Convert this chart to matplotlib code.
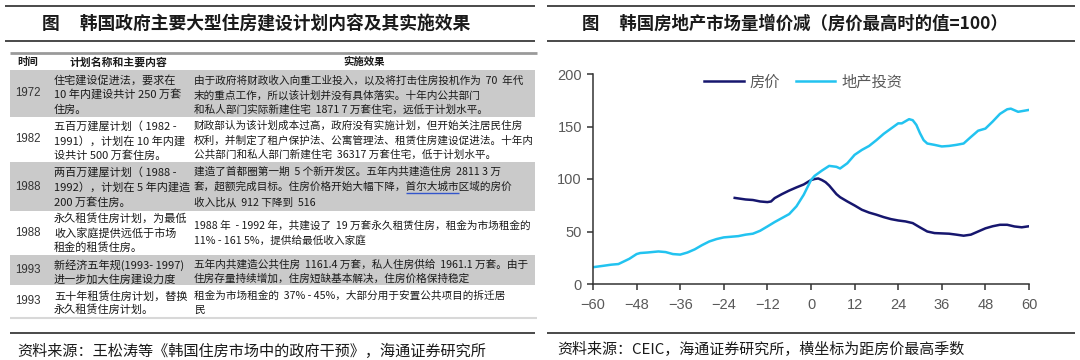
import matplotlib
matplotlib.use("Agg")
import matplotlib.pyplot as plt
from matplotlib.patches import Rectangle

CJK = ['Noto Sans CJK SC', 'DejaVu Sans']
NUM = ['Liberation Sans', 'Noto Sans CJK SC', 'DejaVu Sans']
plt.rcParams['font.family'] = CJK

# ---------------- data ----------------
left_title = "图     韩国政府主要大型住房建设计划内容及其实施效果"
right_title = "图     韩国房地产市场量增价减（房价最高时的值=100）"
left_source = "资料来源：王松涛等《韩国住房市场中的政府干预》，海通证券研究所"
right_source = "资料来源：CEIC，海通证券研究所，横坐标为距房价最高季数"

table_header = ["时间", "计划名称和主要内容", "实施效果"]
table_years = ["1972", "1982", "1988", "1988", "1993", "1993"]
table_plans = [
    ["住宅建设促进法，要求在", "10 年内建设共计 250 万套", "住房。"],
    ["五百万建屋计划（ 1982 -", "1991），计划在 10 年内建", "设共计 500 万套住房。"],
    ["两百万建屋计划（ 1988 -", "1992），计划在 5 年内建造", "200 万套住房。"],
    ["永久租赁住房计划，为最低", "收入家庭提供远低于市场", "租金的租赁住房。"],
    ["新经济五年规(1993- 1997)", "进一步加大住房建设力度"],
    ["五十年租赁住房计划，替换", "永久租赁住房计划。"],
]
table_effects = [
    ["由于政府将财政收入向重工业投入，以及将打击住房投机作为  70  年代",
     "末的重点工作，所以该计划并没有具体落实。十年内公共部门",
     "和私人部门实际新建住宅  1871 7 万套住宅，远低于计划水平。"],
    ["财政部认为该计划成本过高，政府没有实施计划，但开始关注居民住房",
     "权利，并制定了租户保护法、公寓管理法、租赁住房建设促进法。十年内",
     "公共部门和私人部门新建住宅  36317 万套住宅，低于计划水平。"],
    ["建造了首都圈第一期  5 个新开发区。五年内共建造住房  2811 3 万",
     "套，超额完成目标。住房价格开始大幅下降，首尔大城市区域的房价",
     "收入比从  912 下降到  516"],
    ["1988 年  - 1992 年，共建设了  19 万套永久租赁住房，租金为市场租金的",
     "11% - 161 5%，提供给最低收入家庭"],
    ["五年内共建造公共住房  1161.4 万套，私人住房供给  1961.1 万套。由于",
     "住房存量持续增加，住房短缺基本解决，住房价格保持稳定"],
    ["租金为市场租金的  37% - 45%，大部分用于安置公共项目的拆迁居",
     "民"],
]
table_shaded = [True, False, True, False, True, False]

series_names = ["房价", "地产投资"]
quarters_invest = [-60, -57, -55, -53, -50, -48, -47, -45, -42, -40, -38, -36, -34, -32,
                   -30, -28, -26, -24, -22, -20, -18, -16, -14, -12, -10, -8, -6, -4, -2,
                   0, 1, 3, 5, 7, 8, 10, 12, 14, 16, 18, 20, 22, 24, 25, 27, 28, 29, 30,
                   31, 32, 34, 36, 38, 40, 42, 44, 46, 48, 50, 52, 54, 55, 57, 60]
invest = [16, 17.4, 18.4, 19, 24, 28.5, 29.5, 30, 31, 30.4, 28.5, 28, 30, 33,
          37, 40.5, 42.8, 44.4, 45, 45.6, 47, 47.9, 50.7, 54.8, 59, 62.8, 66.6, 74, 85,
          99, 103, 108, 112.5, 111.6, 110, 115, 123, 127.7, 131.5, 137, 143, 148, 153, 153,
          157, 156, 151.5, 143.6, 137, 133.8, 132.5, 131, 131.5, 132.5, 133.8, 140, 146,
          148, 154.7, 162, 166.4, 167, 164, 165.8]
quarters_price = [-21, -18, -16, -14, -12, -11, -10, -8, -6, -4, -2, 0, 1, 2, 3, 4, 5, 6,
                  7, 8, 10, 12, 14, 16, 18, 20, 22, 24, 26, 28, 30, 32, 34, 36, 38, 40,
                  42, 44, 46, 48, 50, 52, 54, 56, 58, 60]
price = [82, 80.5, 80, 78.6, 78, 78.6, 81.8, 85.6, 89, 92, 94.8, 99, 100, 100.5, 99, 97,
         93.8, 89.7, 85.6, 82.7, 78.6, 74.8, 70.7, 68, 66, 63.7, 61.8, 60.5, 59.6, 58,
         53.9, 50, 48.5, 48.2, 47.9, 47, 46, 47, 50, 53, 55, 56.4, 56.4, 54.8, 54, 55]
x_ticks = [-60, -48, -36, -24, -12, 0, 12, 24, 36, 48, 60]
y_ticks = [0, 50, 100, 150, 200]

# ---------------- styles ----------------
NAVY = "#16166e"
CYAN = "#22c3f0"
SHADE = "#cacaca"
TXT = "#1a1a1a"
GRAYTXT = "#595959"

fig = plt.figure(figsize=(10.8, 3.6), dpi=100)
bg = fig.add_axes([0, 0, 1, 1])
bg.set_xlim(0, 1080)
bg.set_ylim(360, 0)
bg.axis('off')

def hline(x0, x1, y, color="#3a3a3a", lw=1.3):
    bg.plot([x0, x1], [y, y], color=color, lw=lw, solid_capstyle='butt')

# ---- left panel: title + table ----
hline(5, 535, 6)
hline(5, 535, 41)
bg.text(42, 24, left_title, fontsize=12.8, fontweight='bold', va='center', ha='left', color=TXT)

hline(10, 537, 53, color="#9a9a9a", lw=2)
bg.text(17, 62, table_header[0], fontsize=7.5, fontweight='bold', va='center', color=TXT)
bg.text(70, 62, table_header[1], fontsize=7.8, fontweight='bold', va='center', color=TXT)
bg.text(343, 62, table_header[2], fontsize=7.5, fontweight='bold', va='center', color=TXT)

row_bounds = [(70, 117), (117, 162), (162, 211), (211, 255), (255, 285), (285, 317)]
plan_lines_y = [[80, 95, 110], [126, 141, 155], [172, 187, 202], [218, 233, 248],
                [265, 279], [296, 310]]
eff_lines_y = [[80, 95, 110], [126, 141, 155], [172, 187, 202], [226, 241],
               [265, 279], [296, 310]]
for i in range(len(table_years)):
    top, bot = row_bounds[i]
    if table_shaded[i]:
        bg.add_patch(Rectangle((10, top), 525, bot - top, color=SHADE, lw=0))
    bg.text(28, (top + bot) / 2, table_years[i], fontsize=8.3, family=NUM,
            va='center', ha='center', color="#333333")
    for s, y in zip(table_plans[i], plan_lines_y[i]):
        bg.text(54, y, s, fontsize=8.0, va='center', ha='left', color=TXT)
    for s, y in zip(table_effects[i], eff_lines_y[i]):
        bg.text(194, y, s, fontsize=7.65, va='center', ha='left', color=TXT)
# hyperlink-style underline beneath "首尔大城市"
hline(406, 459, 193, color="#3355cc", lw=1.0)
hline(10, 537, 318, color="#d8d8d8", lw=1.5)

hline(10, 535, 333)
bg.text(17, 351, left_source, fontsize=10.9, va='center', ha='left', color=TXT)

# ---- right panel ----
hline(547, 1075, 6)
hline(547, 1075, 41)
bg.text(582, 24, right_title, fontsize=12.5, fontweight='bold', va='center', ha='left', color=TXT)
hline(547, 1075, 333)
bg.text(557, 350, right_source, fontsize=10.8, va='center', ha='left', color=TXT)

ax = fig.add_axes([593 / 1080, 1 - 284 / 360, 436 / 1080, 210 / 360])
ax.patch.set_alpha(0)
l1, = ax.plot(quarters_price, price, color=NAVY, lw=1.8, label=series_names[0])
l2, = ax.plot(quarters_invest, invest, color=CYAN, lw=1.8, label=series_names[1])
ax.set_xlim(-60, 60)
ax.set_ylim(0, 200)
ax.set_xticks(x_ticks)
ax.set_yticks(y_ticks)
for sp in ['top', 'right']:
    ax.spines[sp].set_visible(False)
for sp in ['left', 'bottom']:
    ax.spines[sp].set_color("#333333")
    ax.spines[sp].set_linewidth(1.1)
ax.tick_params(axis='both', direction='out', length=4, width=1.1, color="#333333",
               labelcolor=GRAYTXT, labelsize=10.5)
ax.tick_params(axis='y', pad=4)
ax.tick_params(axis='x', pad=6)
for lab in ax.get_xticklabels() + ax.get_yticklabels():
    lab.set_family(NUM)

leg = fig.legend(handles=[l1, l2], loc='center left',
                 bbox_to_anchor=(704 / 1080, 1 - 82 / 360), bbox_transform=fig.transFigure,
                 ncol=2, frameon=False, fontsize=11, handlelength=2.6, handletextpad=0.4,
                 columnspacing=1.0, borderpad=0, borderaxespad=0)
for t in leg.get_texts():
    t.set_color(GRAYTXT)

fig.savefig("out.png", dpi=100)
